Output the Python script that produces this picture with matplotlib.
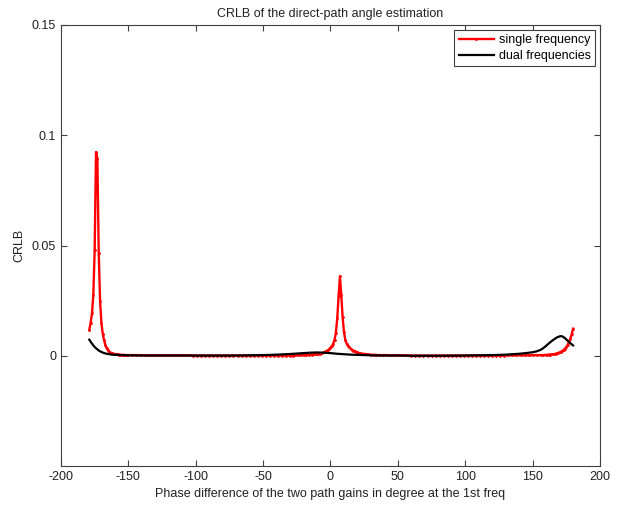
import matplotlib
matplotlib.use("Agg")
import matplotlib.pyplot as plt

plt.rcParams['font.family'] = ['Liberation Sans', 'DejaVu Sans']
plt.rcParams['axes.unicode_minus'] = False

# single frequency CRLB (red, dotted markers at every sample)
phase_single = (
    list(range(-179, -149))
    + list(range(-147, -32, 3))
    + list(range(-30, -11, 2))
    + list(range(-11, 23))
    + list(range(24, 37, 2))
    + list(range(39, 157, 3))
    + [158, 160]
    + list(range(161, 181))
)
crlb_single = (
    [0.0117, 0.0150, 0.0192, 0.0276, 0.0480, 0.0924, 0.0894, 0.0467, 0.0250, 0.0149,
     0.0099, 0.0070, 0.0048, 0.0033, 0.0024, 0.0018, 0.0014, 0.0011, 0.0009, 0.0008,
     0.0007, 0.0006, 0.0005, 0.0005, 0.0004, 0.0004, 0.0004, 0.0003, 0.0003, 0.0003]
    + [0.0003, 0.0003, 0.0003, 0.0002, 0.0002, 0.0002, 0.0002, 0.0002, 0.0002, 0.0002,
       0.0002, 0.0002, 0.0002, 0.0002, 0.0002, 0.0001, 0.0001, 0.0001, 0.0001, 0.0001,
       0.0001, 0.0001, 0.0001, 0.0001, 0.0001, 0.0001, 0.0001, 0.0001, 0.0001, 0.0001,
       0.0001, 0.0001, 0.0001, 0.0001, 0.0001, 0.0001, 0.0001, 0.0001, 0.0001]
    + [0.0001, 0.0001, 0.0002, 0.0002, 0.0002, 0.0003, 0.0003, 0.0004, 0.0005, 0.0006]
    + [0.0007, 0.0008, 0.0009, 0.0010, 0.0011, 0.0013, 0.0015, 0.0018, 0.0021, 0.0025,
       0.0030, 0.0036, 0.0044, 0.0055, 0.0072, 0.0105, 0.0170, 0.0270, 0.0360, 0.0275,
       0.0175, 0.0108, 0.0072, 0.0055, 0.0045, 0.0038, 0.0032, 0.0027, 0.0023, 0.0020,
       0.0017, 0.0015, 0.0013, 0.0011]
    + [0.0009, 0.0008, 0.0006, 0.0005, 0.0004, 0.0004, 0.0003]
    + [0.0003, 0.0003, 0.0002, 0.0002, 0.0002, 0.0002, 0.0002, 0.0001, 0.0001, 0.0001,
       0.0001, 0.0001, 0.0001, 0.0001, 0.0001, 0.0001, 0.0001, 0.0001, 0.0001, 0.0001,
       0.0001, 0.0001, 0.0001, 0.0001, 0.0001, 0.0001, 0.0001, 0.0001, 0.0001, 0.0001,
       0.0001, 0.0002, 0.0002, 0.0002, 0.0002, 0.0002, 0.0002, 0.0003, 0.0003, 0.0003]
    + [0.0003, 0.0004]
    + [0.0004, 0.0005, 0.0005, 0.0006, 0.0007, 0.0008, 0.0009, 0.0011, 0.0013, 0.0015,
       0.0018, 0.0022, 0.0026, 0.0032, 0.0040, 0.0050, 0.0062, 0.0078, 0.0098, 0.0123]
)

# dual frequencies CRLB (black)
phase_dual = [-179, -178, -177, -176, -175, -174, -172, -170, -168, -166, -164, -162,
              -160, -155, -150, -140, -120, -100, -80, -70, -60, -50, -40, -30, -25,
              -20, -15, -10, -5, 0, 5, 10, 15, 20, 30, 40, 50, 60, 80, 100, 120, 130,
              140, 145, 150, 153, 156, 158, 160, 162, 164, 166, 168, 170, 171, 172,
              174, 176, 178, 180]
crlb_dual = [0.0073, 0.0064, 0.0055, 0.0047, 0.0040, 0.0034, 0.0024, 0.0017, 0.0012,
             0.0009, 0.0007, 0.0005, 0.0004, 0.0003, 0.0002, 0.0001, 0.0001, 0.0001,
             0.0001, 0.0001, 0.0002, 0.0003, 0.0005, 0.0008, 0.0010, 0.0012, 0.0014,
             0.0015, 0.0014, 0.0012, 0.0009, 0.0007, 0.0005, 0.0004, 0.0002, 0.0001,
             0.0001, 0.0000, 0.0000, 0.0001, 0.0003, 0.0005, 0.0009, 0.0012, 0.0016,
             0.0020, 0.0027, 0.0035, 0.0045, 0.0056, 0.0066, 0.0075, 0.0083, 0.0088,
             0.0089, 0.0088, 0.0080, 0.0068, 0.0057, 0.0047]

x_ticks = [-200, -150, -100, -50, 0, 50, 100, 150, 200]
y_ticks = [0, 0.05, 0.1, 0.15]
y_tick_labels = ["0", "0.05", "0.1", "0.15"]

fig = plt.figure(figsize=(6.21, 5.05), dpi=100)
ax = fig.add_axes([0.0982, 0.0772, 0.8680, 0.8733])

ax.plot(phase_single, crlb_single, color="red", lw=1.7, marker=".", ms=2,
        label="single frequency")
ax.plot(phase_dual, crlb_dual, color="black", lw=1.6, label="dual frequencies")

ax.set_xlim(-200, 200)
ax.set_ylim(-0.05, 0.15)
ax.set_xticks(x_ticks)
ax.set_yticks(y_ticks)
ax.set_yticklabels(y_tick_labels)
ax.tick_params(direction="in", top=True, right=True, labelsize=9, length=4,
               color="#404040", width=0.8, labelcolor="#222222")
for s in ax.spines.values():
    s.set_color("#404040")
    s.set_linewidth(0.8)

ax.set_title("CRLB of the direct-path angle estimation", fontsize=9, pad=6,
             color="#222222")
ax.set_xlabel("Phase difference of the two path gains in degree at the 1st freq",
              fontsize=9, labelpad=4, color="#222222")
ax.set_ylabel("CRLB", fontsize=9, labelpad=5, color="#222222")

leg = ax.legend(loc="upper right", fontsize=9, fancybox=False, framealpha=1,
                edgecolor="#404040", borderaxespad=0.4, handlelength=2.85,
                borderpad=0.35, labelspacing=0.3, handletextpad=0.35)
leg.get_frame().set_linewidth(0.8)

fig.savefig("out.png", dpi=100)
